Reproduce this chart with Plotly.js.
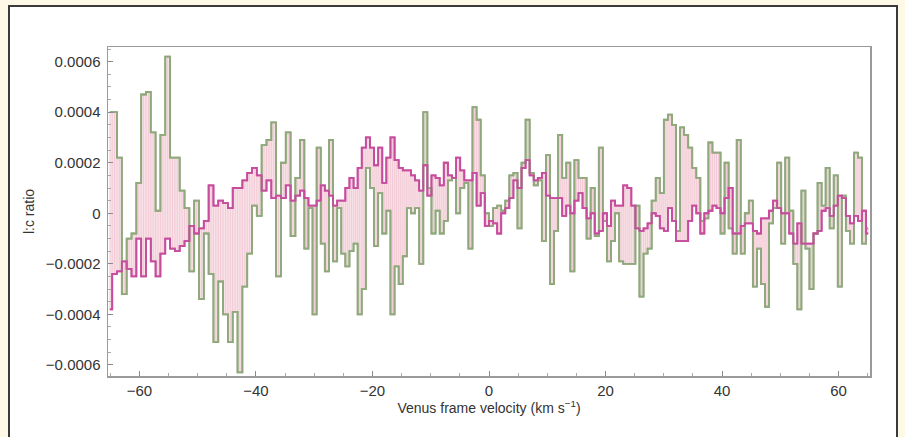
<!DOCTYPE html>
<html><head><meta charset="utf-8">
<script src="https://cdn.plot.ly/plotly-3.0.1.min.js"></script>
<style>
html,body{margin:0;padding:0;background:#fdf9e6;width:905px;height:437px;overflow:hidden;}
#frame{position:absolute;left:8px;top:5px;width:886px;height:440px;background:#fff;border:2px solid #3a3a3a;}
#chart{position:absolute;left:0;top:0;width:905px;height:437px;}
</style></head><body>
<div id="frame"></div>
<div id="chart"></div>
<script>
// Channel centre velocities (km/s)
const velocity = [
 -65.09,-64.26,-63.44,-62.61,-61.78,-60.95,-60.12,-59.30,-58.47,-57.64,
 -56.82,-55.99,-55.16,-54.33,-53.51,-52.68,-51.85,-51.02,-50.20,-49.37,
 -48.54,-47.71,-46.89,-46.06,-45.23,-44.40,-43.58,-42.75,-41.92,-41.09,
 -40.27,-39.44,-38.61,-37.78,-36.96,-36.13,-35.30,-34.47,-33.65,-32.82,
 -32.05,-31.35,-30.64,-29.94,-29.23,-28.53,-27.83,-27.12,-26.42,-25.71,
 -25.01,-24.31,-23.60,-22.90,-22.19,-21.49,-20.79,-20.08,-19.38,-18.67,
 -17.97,-17.27,-16.56,-15.86,-15.15,-14.45,-13.75,-13.04,-12.34,-11.63,
 -10.93,-10.23,-9.52,-8.82,-8.11,-7.41,-6.71,-6.00,-5.30,-4.59,
 -3.89,-3.19,-2.48,-1.78,-1.07,-0.37,
 0.35,1.05,1.75,2.44,3.14,3.84,4.54,5.24,5.93,6.63,
 7.33,8.03,8.73,9.42,10.12,10.82,11.52,12.22,12.91,13.61,
 14.31,15.01,15.71,16.40,17.10,17.80,18.50,19.20,19.89,20.59,
 21.29,21.99,22.69,23.38,24.08,24.78,25.48,26.18,26.87,27.57,
 28.27,28.97,29.67,30.36,31.06,31.76,32.46,
 33.15,33.84,34.54,35.23,35.93,36.62,37.31,38.01,38.70,39.40,
 40.09,40.78,41.48,42.17,42.87,43.56,44.25,44.95,45.64,46.34,
 47.03,47.72,48.42,49.11,49.81,50.50,51.19,51.89,52.58,53.28,
 53.97,54.66,55.36,56.05,56.75,57.44,58.13,58.83,59.52,60.22,
 60.91,61.60,62.30,62.99,63.69,64.38,65.08
];
// l:c ratio, in units of 1e-4
const greenSeries = [
 4.0,4.0,2.2,-3.2,-1.0,-0.8,1.2,4.7,4.8,3.2,
 0.1,3.1,6.2,2.2,2.2,0.9,0.2,-2.3,0.5,-3.4,
 -0.8,-2.4,-5.1,-2.7,-4.0,-5.1,-3.9,-6.3,-2.9,-1.6,
 0.3,-0.1,2.7,2.9,3.6,-2.5,2.0,3.2,-0.9,1.4,
 2.9,-1.4,0.2,-4.0,2.6,-1.2,-2.3,2.9,-1.9,0.2,
 -1.6,-2.1,-1.5,-1.2,-4.0,-3.0,1.8,1.0,-1.3,0.8,
 -0.8,0.1,-4.0,-2.1,-2.8,-1.7,0.2,0.0,0.2,-2.0,
 4.0,1.0,-0.8,0.1,-0.8,-0.3,1.3,1.4,0.0,1.0,
 1.2,-1.4,4.2,3.7,1.5,0.0,
 -0.5,0.2,0.3,0.1,0.5,1.5,1.6,-0.6,2.0,3.7,
 1.6,1.1,1.3,-1.1,2.3,-2.8,-0.7,3.1,1.4,2.0,
 -2.3,2.1,1.4,1.4,-1.0,1.0,-0.9,2.6,-0.3,-1.9,
 -1.1,0.0,-1.9,-2.0,-2.0,-2.0,0.3,-3.3,-1.6,-1.4,
 0.5,1.4,0.8,3.7,3.9,3.5,-0.7,
 3.4,3.1,2.6,1.8,1.4,-0.3,-0.2,2.8,2.4,2.4,
 -0.8,2.0,-0.6,-1.6,2.9,-1.6,0.0,0.5,-2.9,-1.4,
 -2.8,-3.7,-0.4,0.2,2.0,-1.2,2.2,0.1,-2.0,-3.8,
 0.9,-1.4,-3.0,-0.8,1.2,0.3,1.8,-0.6,1.5,-2.9,
 0.7,-0.7,-1.2,2.4,2.2,-1.2,-0.6
];
const magentaSeries = [
 -3.8,-2.4,-2.3,-1.9,-2.2,-2.5,-1.0,-2.5,-1.0,-1.9,
 -2.5,-1.6,-1.0,-1.4,-1.5,-1.3,-1.1,-0.5,-0.8,-0.6,
 -0.3,1.1,0.3,0.5,0.4,0.2,1.0,1.0,1.3,1.6,
 1.8,1.5,0.9,1.3,0.6,0.7,0.6,1.1,0.5,0.7,
 0.9,0.6,0.3,0.3,0.5,1.1,0.9,0.7,0.3,0.5,
 0.5,1.0,1.4,1.0,1.8,2.6,3.0,2.6,1.9,2.6,
 1.2,2.2,3.0,2.1,1.8,1.7,1.7,1.5,1.3,0.9,
 1.9,0.7,1.5,1.4,1.1,2.0,1.5,1.4,2.2,1.7,
 1.3,1.3,1.6,0.3,0.8,-0.5,
 -0.3,-0.4,-0.8,0.0,0.2,0.6,1.3,1.0,1.8,2.1,
 1.5,1.3,1.4,1.6,0.7,0.6,0.6,0.6,-0.1,0.3,
 0.0,0.5,0.8,0.2,-0.2,0.0,-0.8,-0.7,0.0,-0.5,
 0.5,0.3,0.3,1.1,1.0,0.3,-0.6,-0.7,-0.6,-0.4,
 0.0,-0.1,-0.6,-0.7,0.2,-0.3,-1.1,
 -1.1,-1.1,-0.3,0.3,0.0,-0.8,0.0,0.1,0.3,0.2,
 0.0,0.6,1.0,-0.8,-0.8,-0.5,-0.4,-0.4,-0.7,-0.8,
 -0.2,-0.2,0.1,0.5,0.2,0.0,0.0,-0.8,-1.2,-0.4,
 -1.2,-1.2,-1.2,-0.8,-0.7,0.1,0.2,-0.1,0.3,0.7,
 0.6,-0.1,-0.4,-0.1,-0.3,0.1,-0.8
];
const UNIT = 1e-4;
const yTickVals = [0.0006,0.0004,0.0002,0,-0.0002,-0.0004,-0.0006];
const yTickText = ['0.0006','0.0004','0.0002','0','\u22120.0002','\u22120.0004','\u22120.0006'];
const xTickVals = [-60,-40,-20,0,20,40,60];
const xTickText = ['\u221260','\u221240','\u221220','0','20','40','60'];

const green = greenSeries.map(v => v*UNIT);
const magenta = magentaSeries.map(v => v*UNIT);

// Seams of the filling inside each channel (between the two step curves)
const seamX = [], seamY = [];
for (let i = 0; i < velocity.length; i++) {
  const left = i === 0 ? velocity[0] - (velocity[1]-velocity[0])/2 : (velocity[i-1]+velocity[i])/2;
  const right = i === velocity.length-1 ? velocity[i] + (velocity[i]-velocity[i-1])/2 : (velocity[i]+velocity[i+1])/2;
  const mid = (left + right) / 2;
  [left, mid].forEach(xx => { seamX.push(xx, xx, null); seamY.push(green[i], magenta[i], null); });
}

const FONT = 'Liberation Sans, Arial, Helvetica, sans-serif';
const GREEN = '#8fa97c', MAGENTA = '#c64c9d';
const traces = [
  {x: velocity, y: green, type:'scatter', mode:'lines',
   line:{shape:'hvh', color:GREEN, width:1.8}, hoverinfo:'skip'},
  {x: velocity, y: magenta, type:'scatter', mode:'lines',
   line:{shape:'hvh', color:MAGENTA, width:1.8}, fill:'tonexty',
   fillcolor:'rgba(244,202,214,0.55)', hoverinfo:'skip'},
  {x: seamX, y: seamY, type:'scatter', mode:'lines',
   line:{color:'rgba(226,150,172,0.3)', width:1}, hoverinfo:'skip'},
  {x: velocity, y: green, type:'scatter', mode:'lines',
   line:{shape:'hvh', color:GREEN, width:1.8}, hoverinfo:'skip'},
  {x: velocity, y: magenta, type:'scatter', mode:'lines',
   line:{shape:'hvh', color:MAGENTA, width:1.8}, hoverinfo:'skip'}
];
const axisCommon = {
  showgrid:false, zeroline:false, showline:true, linecolor:'#9a9a9a', linewidth:1.5, mirror:true,
  ticks:'inside', ticklen:5, tickwidth:1, tickcolor:'#8a8a8a',
  tickfont:{family:FONT, size:15, color:'#333'}
};
const layout = {
  width:905, height:437,
  margin:{l:108, r:35, t:47, b:61, pad:0},
  paper_bgcolor:'rgba(0,0,0,0)', plot_bgcolor:'rgba(0,0,0,0)',
  showlegend:false,
  xaxis: Object.assign({}, axisCommon, {
    range:[-65.4,65.4], tickmode:'array', tickvals:xTickVals, ticktext:xTickText,
    minor:{tickmode:'linear', tick0:0, dtick:5, ticks:'inside', ticklen:3, tickcolor:'#aaa'},
    title:{text:'Venus frame velocity (km s<sup>\u22121</sup>)', font:{family:FONT, size:14, color:'#333'}, standoff:5}
  }),
  yaxis: Object.assign({}, axisCommon, {
    range:[-0.000644,0.000658], tickmode:'array', tickvals:yTickVals, ticktext:yTickText,
    ticklabelstandoff:3,
    minor:{tickmode:'linear', tick0:0, dtick:0.00005, ticks:'inside', ticklen:3, tickcolor:'#aaa'},
    title:{text:'l:c ratio', font:{family:FONT, size:14, color:'#333'}, standoff:8}
  })
};
Plotly.newPlot('chart', traces, layout, {displayModeBar:false, staticPlot:true});
</script>
</body></html>
